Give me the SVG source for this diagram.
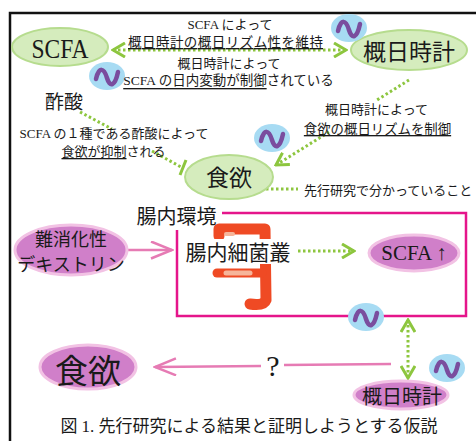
<svg xmlns="http://www.w3.org/2000/svg" width="476" height="441" viewBox="0 0 476 441">
  <style>
    .jp { font-family: "Noto Sans CJK JP", sans-serif; fill: #1a1a1a; }
    .mx { font-family: "Liberation Serif", "Noto Sans CJK JP", serif; fill: #1a1a1a; }
    text { dominant-baseline: central; text-anchor: middle; }
    .ul { text-decoration: underline; }
    .dot { fill: none; stroke: #8dc63f; stroke-width: 3; stroke-dasharray: 2.5 2.5; }
    .pk { fill: none; stroke: #e67bb4; stroke-width: 2.5; }
    .gnode { fill: #d5ecbd; stroke: #b6dc8e; stroke-width: 2; }
    .pnode { fill: #d07fc9; stroke: #f2c2e4; stroke-width: 3; }
  </style>
  <defs>
    <marker id="chev-g" markerUnits="userSpaceOnUse" viewBox="0 0 16 16" markerWidth="16" markerHeight="16" refX="14" refY="8" orient="auto-start-reverse">
      <path d="M 2 1 L 14 8 L 2 15" fill="none" stroke="#8dc63f" stroke-width="3" stroke-dasharray="none"/>
    </marker>
    <marker id="chev-p" markerUnits="userSpaceOnUse" viewBox="0 0 24 19" markerWidth="24" markerHeight="19" refX="22" refY="9.5" orient="auto">
      <path d="M 1 1 L 22 9.5 L 1 18" fill="none" stroke="#e67bb4" stroke-width="2.5"/>
    </marker>
    <g id="osc">
      <ellipse rx="18" ry="14" fill="#a7dbf3"/>
      <path d="M -11 3 C -8 -10 -3 -8 0 2 C 3 12 8 10 11 -4" fill="none" stroke="#7a4d9e" stroke-width="4.5" stroke-linecap="round"/>
    </g>
  </defs>

  <rect width="476" height="441" fill="#ffffff"/>
  <!-- frame -->
  <path d="M 10 441 L 10 13 L 476 13" fill="none" stroke="#111" stroke-width="2.5"/>

  <!-- gut environment box -->
  <g id="gut-box">
    <path d="M 222 213 L 466 213 L 466 316 L 177 316 L 177 230" fill="none" stroke="#e5158b" stroke-width="2.5"/>
    <text class="jp" x="176.5" y="215" font-size="20">腸内環境</text>
    <!-- intestine -->
    <g fill="none" stroke-linecap="round" stroke-linejoin="round">
      <path d="M 219 236 L 219 229 L 265 229 L 266 300 Q 264 306 250 304" stroke="#ef4a24" stroke-width="11"/>
      <path d="M 217 273 L 262 273" stroke="#ef4a24" stroke-width="9"/>
      <path d="M 226 273 L 250 273" stroke="#f6b59a" stroke-width="5"/>
      <path d="M 226 234 L 233 234" stroke="#f6b59a" stroke-width="4"/>
    </g>
  </g>

  <!-- connectors -->
  <g id="connectors">
    <path class="dot" d="M 113 50 L 346 50" marker-start="url(#chev-g)" marker-end="url(#chev-g)"/>
    <path class="dot" d="M 409 80 L 377 100"/>
    <path class="dot" d="M 329 132 L 276 165" marker-end="url(#chev-g)"/>
    <path class="dot" d="M 80 112 L 112 129"/>
    <path class="dot" d="M 152 151 L 181 167"/>
    <path d="M 186 160 L 180 175" stroke="#8dc63f" stroke-width="3"/>
    <path class="dot" d="M 266 189 L 298 189"/>
    <path class="dot" d="M 298 251 L 354 251" marker-end="url(#chev-g)"/>
    <path class="dot" d="M 408 320 L 408 378" marker-start="url(#chev-g)" marker-end="url(#chev-g)"/>
    <path class="pk" d="M 128 250 L 172 250" marker-end="url(#chev-p)"/>
    <path class="pk" d="M 261 366 L 155 367" marker-end="url(#chev-p)"/>
    <path class="pk" d="M 284 365 L 391 364"/>
  </g>

  <!-- nodes -->
  <g id="scfa-top">
    <ellipse class="gnode" cx="60" cy="47" rx="48" ry="19"/>
    <text class="mx" x="60" y="48" font-size="28" textLength="57" lengthAdjust="spacingAndGlyphs">SCFA</text>
  </g>
  <g id="clock-top">
    <ellipse class="gnode" cx="409" cy="50" rx="58" ry="20"/>
    <text class="jp" x="409" y="50" font-size="23">概日時計</text>
  </g>
  <g id="appetite-top">
    <ellipse class="gnode" cx="229" cy="177" rx="44" ry="22"/>
    <text class="jp" x="229" y="176" font-size="23">食欲</text>
  </g>
  <g id="dextrin">
    <ellipse class="pnode" cx="71" cy="250" rx="56" ry="25"/>
    <text class="jp" x="71" y="238" font-size="18">難消化性</text>
    <text class="jp" x="71" y="263" font-size="18">デキストリン</text>
  </g>
  <g id="microbiota">
    <rect x="183" y="239" width="115" height="25" fill="#ffffff"/>
    <text class="jp" x="238" y="251" font-size="21">腸内細菌叢</text>
  </g>
  <g id="scfa-up">
    <ellipse class="pnode" cx="414" cy="253" rx="45" ry="18"/>
    <text class="mx" x="414" y="253" font-size="21">SCFA ↑</text>
  </g>
  <g id="appetite-bottom">
    <ellipse class="pnode" cx="88" cy="367" rx="48" ry="22"/>
    <text class="jp" x="88" y="369" font-size="33">食欲</text>
  </g>
  <g id="clock-bottom">
    <ellipse class="pnode" cx="401" cy="395" rx="47" ry="14"/>
    <text class="jp" x="402" y="395" font-size="20">概日時計</text>
  </g>

  <!-- oscillation marks -->
  <g id="rhythm-marks">
    <use href="#osc" x="349" y="28"/>
    <use href="#osc" x="107" y="76"/>
    <use href="#osc" x="272" y="138"/>
    <use href="#osc" x="366" y="317"/>
    <use href="#osc" x="447" y="368"/>
  </g>

  <!-- labels -->
  <g id="labels">
    <text class="mx" x="230" y="24" font-size="13">SCFA によって</text>
    <text class="jp ul" x="225.5" y="41" font-size="13.5" textLength="195">概日時計の概日リズム性を維持</text>
    <text class="jp" x="229" y="62" font-size="13">概日時計によって</text>
    <text class="mx" x="228.5" y="80" font-size="13.5"><tspan class="ul">SCFA の日内変動が制御</tspan>されている</text>
    <text class="jp" x="64" y="100" font-size="19">酢酸</text>
    <text class="mx" x="114" y="133" font-size="13">SCFA の１種である酢酸によって</text>
    <text class="jp" x="113.5" y="150" font-size="13"><tspan class="ul">食欲が抑制</tspan>される</text>
    <text class="jp" x="376.5" y="108.5" font-size="13">概日時計によって</text>
    <text class="jp ul" x="377.5" y="128" font-size="13.4">食欲の概日リズムを制御</text>
    <text class="jp" x="304" y="189" font-size="13" style="text-anchor:start">先行研究で分かっていること</text>
    <text class="mx" x="273" y="365" font-size="30">?</text>
    <text class="mx" x="249" y="426" font-size="17">図 1. 先行研究による結果と証明しようとする仮説</text>
  </g>
</svg>
